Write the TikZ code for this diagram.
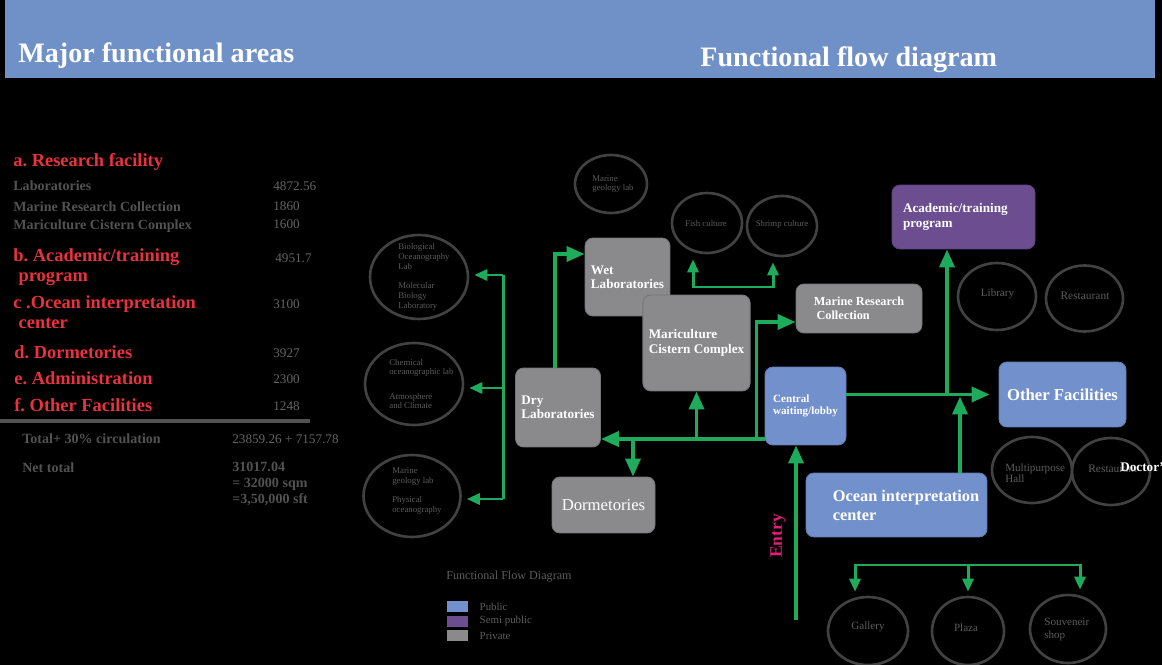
\documentclass[tikz,border=0pt]{standalone}
\usepackage{fontspec}
\setmainfont{Liberation Serif}
\usetikzlibrary{arrows.meta, positioning, shapes.geometric}
\definecolor{headblue}{RGB}{112, 144, 200}
\definecolor{publicblue}{RGB}{114, 145, 204}
\definecolor{semipurple}{RGB}{108, 78, 144}
\definecolor{privategray}{RGB}{138, 138, 140}
\definecolor{flowgreen}{RGB}{30, 172, 92}
\definecolor{areared}{RGB}{232, 50, 62}
\definecolor{listgray}{RGB}{82, 82, 82}
\definecolor{valuegray}{RGB}{100, 100, 100}
\definecolor{zoneline}{RGB}{66, 66, 66}
\definecolor{zonegray}{RGB}{92, 92, 92}
\definecolor{entrypink}{RGB}{226, 30, 120}
\frenchspacing

\begin{document}
\begin{tikzpicture}[
    x=0.02cm, y=-0.02cm,
    % heading and list styles
    headtext/.style={text=white, inner sep=0, font=\fontsize{16}{18}\selectfont\bfseries},
    areatitle/.style={anchor=west, inner sep=0, align=left, text=areared,
      font=\fontsize{10.5}{11.5}\selectfont\bfseries},
    areaitem/.style={anchor=west, inner sep=0, align=left, text=listgray,
      font=\fontsize{8}{9}\selectfont\bfseries},
    areavalue/.style={anchor=west, inner sep=0, text=valuegray,
      font=\fontsize{7.5}{9}\selectfont},
    % flow diagram styles
    privatebox/.style={
      draw=privategray!85!black, fill=privategray,
      rounded corners=0.16cm, line width=0.5pt,
      text=white, align=left,
      font=\fontsize{7.5}{8.2}\selectfont\bfseries
    },
    publicbox/.style={privatebox, draw=publicblue!85!black, fill=publicblue},
    semibox/.style={privatebox, draw=semipurple!85!black, fill=semipurple},
    zone/.style={ellipse, draw=zoneline, line width=1.5pt, inner sep=0},
    zonelabel/.style={text=zonegray, align=left, inner sep=0,
      font=\fontsize{5}{5.5}\selectfont},
    flow/.style={draw=flowgreen, line width=2.1pt,
      -{Triangle[length=0.36cm, width=0.3cm]}},
    branch/.style={draw=flowgreen, line width=1.7pt,
      -{Triangle[length=0.26cm, width=0.22cm]}},
    duct/.style={draw=flowgreen, line width=1.7pt},
    % legend styles
    swatch/.style={minimum width=0.42cm, minimum height=0.22cm, inner sep=0},
    keylabel/.style={text=zonegray, inner sep=0, font=\fontsize{6.2}{7}\selectfont}
  ]

  % Background and heading bar
  \fill[black] (0,0) rectangle (1162,665);
  \useasboundingbox (0,0) rectangle (1162,665);
  \fill[headblue] (5,0) rectangle (1155,78);
  \node[headtext, anchor=base west] (areashead) at (18,63) {Major functional areas};
  \node[headtext, anchor=base west] (flowhead) at (700,67) {Functional flow diagram};

  % Area list
  \node[areatitle] (resarea) at (13,162) {a. Research facility};
  \node[areaitem] (labitem) at (13,186) {Laboratories};
  \node[areaitem] (mrcitem) at (13,207) {Marine Research Collection};
  \node[areaitem] (mccitem) at (13,226) {Mariculture Cistern Complex};
  \node[areavalue] (labval) at (273,186) {4872.56};
  \node[areavalue] (mrcval) at (273,206) {1860};
  \node[areavalue] (mccval) at (273,224) {1600};

  \node[areatitle] (acadarea) at (13,267) {b. Academic/training\\\hspace*{3pt}program};
  \node[areavalue] (acadval) at (275,258) {4951.7};
  \node[areatitle] (oceanarea) at (13,312) {c .Ocean interpretation\\\hspace*{3pt}center};
  \node[areavalue] (oceanval) at (273,304) {3100};
  \node[areatitle] (dormarea) at (14,352) {d. Dormetories};
  \node[areavalue] (dormval) at (273,353) {3927};
  \node[areatitle] (adminarea) at (14,378) {e. Administration};
  \node[areavalue] (adminval) at (273,379) {2300};
  \node[areatitle] (otherarea) at (14,405) {f. Other Facilities};
  \node[areavalue] (otherval) at (273,406) {1248};

  \draw[draw=listgray, line width=2.3pt] (0,421) -- (310,421);
  \node[areaitem] (totalitem) at (22,439) {Total+ 30\% circulation};
  \node[areavalue] (totalval) at (232,439) {23859.26 + 7157.78};
  \node[areaitem] (netitem) at (22,468) {Net total};
  \node[areaitem] (netval) at (232,484) {31017.04\\= 32000 sqm\\=3,50,000 sft};

  % Boxes
  \node[privatebox, minimum width=1.62cm, minimum height=1.56cm] (wet) at (627.5,277) {Wet\\Laboratories};
  \node[privatebox, minimum width=2.06cm, minimum height=1.92cm] (mari) at (696.5,343) {Mariculture\\Cistern Complex};
  \node[privatebox, minimum width=1.64cm, minimum height=1.58cm] (dry) at (558,407.5) {Dry\\Laboratories};
  \node[privatebox, minimum width=2.06cm, minimum height=1.12cm,
    font=\fontsize{9.5}{11}\selectfont] (dorm) at (603.5,505) {Dormetories};
  \node[privatebox, minimum width=2.52cm, minimum height=0.98cm,
    font=\fontsize{7}{8}\selectfont\bfseries] (mrc) at (859,308.5) {Marine Research\\\hspace*{1.5pt}Collection};
  \node[publicbox, minimum width=1.62cm, minimum height=1.56cm,
    font=\fontsize{6.3}{7}\selectfont\bfseries] (lobby) at (805.5,406) {Central\\waiting/lobby};
  \node[semibox, minimum width=2.86cm, minimum height=1.28cm, text width=2.42cm] (acad) at (963.5,217) {Academic/training\\program};
  \node[publicbox, minimum width=2.54cm, minimum height=1.3cm,
    font=\fontsize{9.5}{11}\selectfont\bfseries] (other) at (1062.5,394.5) {Other Facilities};
  \node[publicbox, minimum width=3.62cm, minimum height=1.28cm,
    font=\fontsize{9.3}{10.8}\selectfont\bfseries] (ocean) at (896.5,505) {\hspace*{0.38cm}Ocean interpretation\\\hspace*{0.38cm}center};

  % Ellipses
  \node[zone, minimum width=1.44cm, minimum height=1.16cm] (topgeo) at (611,184) {};
  \node[zone, minimum width=1.4cm, minimum height=1.2cm] (fish) at (707,223) {};
  \node[zone, minimum width=1.4cm, minimum height=1.2cm] (shrimp) at (782,226) {};
  \node[zone, minimum width=1.96cm, minimum height=1.68cm] (bio) at (419,277) {};
  \node[zone, minimum width=1.96cm, minimum height=1.64cm] (chem) at (414,384) {};
  \node[zone, minimum width=1.94cm, minimum height=1.64cm] (geo) at (412,496) {};
  \node[zone, minimum width=1.56cm, minimum height=1.34cm] (library) at (997,296.5) {};
  \node[zone, minimum width=1.54cm, minimum height=1.32cm] (restone) at (1084.5,298.5) {};
  \node[zone, minimum width=1.6cm, minimum height=1.32cm] (multi) at (1032,470) {};
  \node[zone, minimum width=1.56cm, minimum height=1.34cm] (resttwo) at (1111,471.5) {};
  \node[zone, minimum width=1.6cm, minimum height=1.36cm] (gallery) at (868,631) {};
  \node[zone, minimum width=1.44cm, minimum height=1.36cm] (plaza) at (968,631) {};
  \node[zone, minimum width=1.52cm, minimum height=1.36cm] (souv) at (1068,629) {};

  % Ellipse texts
  \node[zonelabel, anchor=west] (topgeotext) at (592,184) {Marine\\geology lab};
  \node[zonelabel] (fishtext) at (706,223) {Fish culture};
  \node[zonelabel] (shrimptext) at (782,224) {Shrimp culture};
  \node[zonelabel, anchor=west] (biotext) at (398,277) {Biological\\Oceanography\\Lab\\[5.7pt]Molecular\\Biology\\Laboratory};
  \node[zonelabel, anchor=west] (chemtext) at (389,384) {Chemical\\oceanographic lab\\[8.5pt]Atmosphere\\and Climate};
  \node[zonelabel, anchor=west] (geotext) at (392,491) {Marine\\geology lab\\[5.7pt]Physical\\oceanography};
  \node[zonelabel, font=\fontsize{6.3}{7}\selectfont] (librarytext) at (997.5,294) {Library};
  \node[zonelabel, font=\fontsize{6.5}{7}\selectfont] (restonetext) at (1085,296) {Restaurant};
  \node[zonelabel, anchor=west, font=\fontsize{6.3}{6.5}\selectfont] (multitext) at (1005,473) {Multipurpose\\Hall};
  \node[zonelabel, anchor=west, font=\fontsize{6.5}{7}\selectfont] (resttwotext) at (1088,469) {Restaurant};
  \node[anchor=west, inner sep=0, text=white, font=\fontsize{7.5}{8}\selectfont\bfseries] (doctortext) at (1120,467) {Doctor's};
  \node[zonelabel, font=\fontsize{6.3}{7}\selectfont] (gallerytext) at (868,627) {Gallery};
  \node[zonelabel, font=\fontsize{6.3}{7}\selectfont] (plazatext) at (966,628) {Plaza};
  \node[zonelabel, anchor=west, font=\fontsize{6.3}{7.4}\selectfont] (souvtext) at (1044,629.5) {Souveneir\\shop};

  % Left bus to the lab ellipses
  \coordinate (lbtop) at (503,275);
  \coordinate (lbmid) at (503,388);
  \coordinate (lbbot) at (503,499);
  \draw[duct] (lbtop) -- (lbbot);
  \draw[branch, shorten >=0.1cm] (lbtop) -- (bio.east |- lbtop);
  \draw[branch, shorten >=0.1cm] (lbmid) -- (chem.east |- lbmid);
  \draw[branch, shorten >=0.1cm] (lbbot) -- (geo.east |- lbbot);

  % Dry to wet laboratories
  \draw[flow] ([xshift=-0.06cm]dry.north) |- ([yshift=0.46cm]wet.west);

  % Spine from the lobby
  \coordinate (spine) at ([yshift=-0.66cm]lobby.west);
  \coordinate (dormin) at ([xshift=0.59cm]dorm.north);
  \coordinate (mrcfoot) at ([xshift=-0.16cm]spine);
  \coordinate (mrcin) at ([yshift=-0.27cm]mrc.west);
  \draw[flow] (spine) -- (spine -| dry.east);
  \draw[flow] (dormin |- spine) -- (dormin);
  \draw[flow] (mari.south |- spine) -- (mari.south);
  \draw[flow] (mrcfoot) |- (mrcin);

  % Fish and shrimp culture
  \coordinate (cultl) at (693,287);
  \coordinate (cultr) at (773,287);
  \draw[branch, {Triangle[length=0.26cm, width=0.22cm]}-{Triangle[length=0.26cm, width=0.22cm]},
    shorten <=0.1cm, shorten >=0.1cm]
    (cultl |- fish.south) -- (cultl) -- (cultr) -- (cultr |- shrimp.south);

  % Lobby to other facilities
  \coordinate (acadin) at ([xshift=-0.33cm]acad.south);
  \coordinate (oceanout) at ([xshift=1.27cm]ocean.north);
  \draw[flow, shorten >=0.18cm] (lobby.east |- other.west) -- (other.west);
  \draw[flow] (acadin |- other.west) -- (acadin);
  \draw[flow] (oceanout) -- ([yshift=-0.04cm]oceanout |- other.west);

  % Entry
  \coordinate (entry) at (796,620);
  \draw[flow] (entry) -- (entry |- lobby.south);
  \node[rotate=90, inner sep=0, text=entrypink, font=\fontsize{10}{12}\selectfont\bfseries] (entrytext) at (778,536) {Entry};

  % Gallery, plaza and shop
  \coordinate (galdrop) at (855,565);
  \coordinate (souvdrop) at (1080,565);
  \draw[branch, {Triangle[length=0.26cm, width=0.22cm]}-{Triangle[length=0.26cm, width=0.22cm]},
    shorten <=0.08cm, shorten >=0.08cm]
    (galdrop |- gallery.north) -- (galdrop) -- (souvdrop) -- (souvdrop |- souv.north);
  \draw[branch, shorten >=0.08cm] (plaza.north |- galdrop) -- (plaza.north);

  % Legend
  \node[keylabel, anchor=west, font=\fontsize{6.9}{8}\selectfont] (keytitle) at (446,577) {Functional Flow Diagram};
  \node[swatch, fill=publicblue] (pubkey) at (457.5,606.5) {};
  \node[swatch, fill=semipurple] (semikey) at (457.5,621) {};
  \node[swatch, fill=privategray] (privkey) at (457.5,635.5) {};
  \node[keylabel, right=0.22cm of pubkey] (pubtext) {Public};
  \node[keylabel, right=0.22cm of semikey] (semitext) {Semi public};
  \node[keylabel, right=0.22cm of privkey] (privtext) {Private};

\end{tikzpicture}
\end{document}
